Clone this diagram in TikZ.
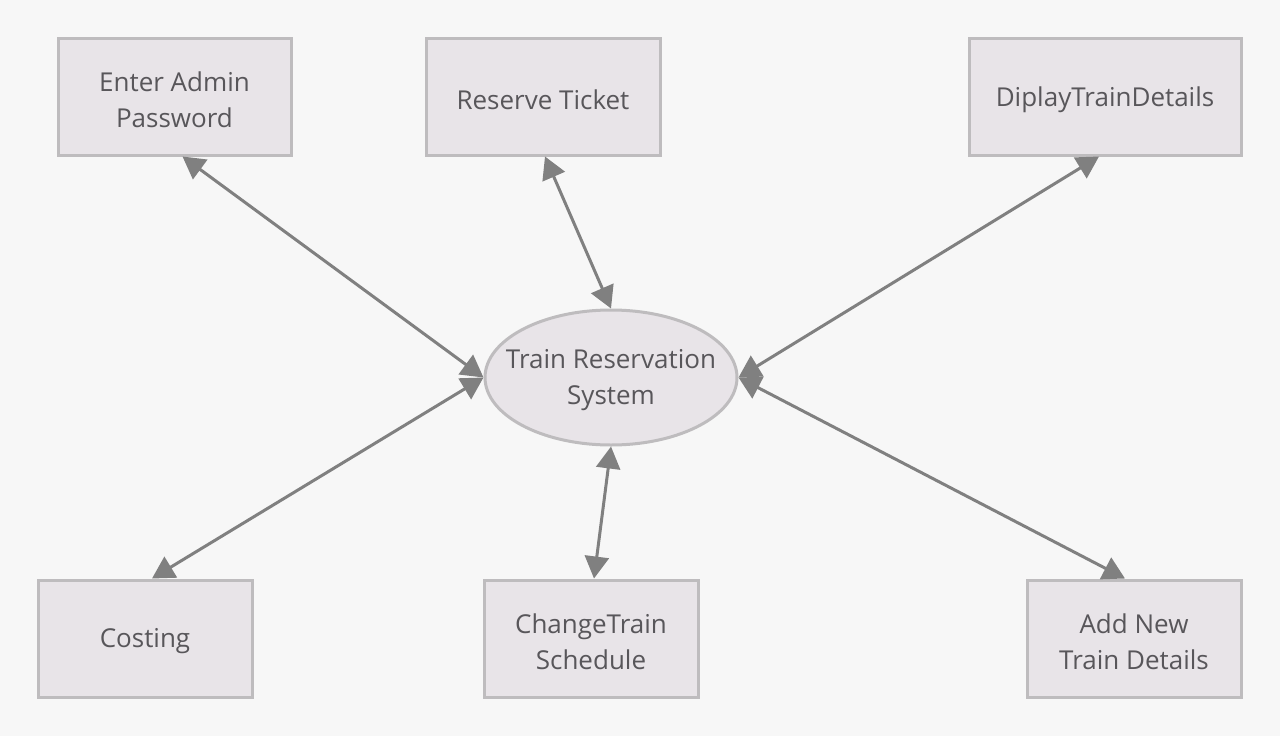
\documentclass[tikz,border=0pt]{standalone}
\usepackage{fontspec}
\setmainfont{Open Sans}
\usetikzlibrary{arrows.meta,shapes.geometric}
\definecolor{bg}{RGB}{247,247,247}
\definecolor{boxfill}{RGB}{232,228,232}
\definecolor{boxline}{RGB}{190,188,190}
\definecolor{arr}{RGB}{128,128,128}
\definecolor{txt}{RGB}{88,86,90}
\begin{document}
\begin{tikzpicture}[x=1pt,y=-1pt,
  box/.style={draw=boxline,line width=3pt,fill=boxfill,minimum height=117pt,inner sep=0pt},
  sysnode/.style={ellipse,draw=boxline,line width=3pt,fill=boxfill,minimum width=252pt,minimum height=135pt,inner sep=0pt},
  lbl/.style={text=txt,align=center,inner sep=0pt,yshift=-3pt,font=\fontsize{26}{36}\selectfont},
  conn/.style={draw=arr,line width=3pt,{Triangle[length=22pt,width=24pt]}-{Triangle[length=22pt,width=24pt]}}]
\fill[bg] (0,0) rectangle (1280,736);
\useasboundingbox (0,0) rectangle (1280,736);
\node[box,minimum width=233pt] (ea) at (174.5,96.5) {};
\node[lbl] (eal) at (ea.center) {Enter Admin\\Password};
\node[box,minimum width=234pt] (rt) at (543,96.5) {};
\node[lbl] (rtl) at (rt.center) {Reserve Ticket};
\node[box,minimum width=272pt] (dt) at (1105,96.5) {};
\node[lbl] (dtl) at (dt.center) {DiplayTrainDetails};
\node[box,minimum width=214pt] (co) at (145,638.5) {};
\node[lbl] (col) at (co.center) {Costing};
\node[box,minimum width=214pt] (cs) at (591,638.5) {};
\node[lbl] (csl) at (cs.center) {ChangeTrain\\Schedule};
\node[box,minimum width=214pt] (an) at (1134,638.5) {};
\node[lbl] (anl) at (an.center) {Add New\\Train Details};
\node[sysnode] (sys) at (611,377.5) {};
\node[lbl] (syslbl) at (sys.center) {Train Reservation\\System};
\draw[conn] ([xshift=8pt]ea.south) -- (sys.west);
\draw[conn] ([xshift=2pt]rt.south) -- (sys.north);
\draw[conn] ([xshift=-6pt]dt.south) -- (sys.east);
\draw[conn] ([xshift=7pt]co.north) -- (sys.west);
\draw[conn] ([xshift=3pt]cs.north) -- (sys.south);
\draw[conn] ([xshift=-9pt]an.north) -- (sys.east);
\end{tikzpicture}
\end{document}
